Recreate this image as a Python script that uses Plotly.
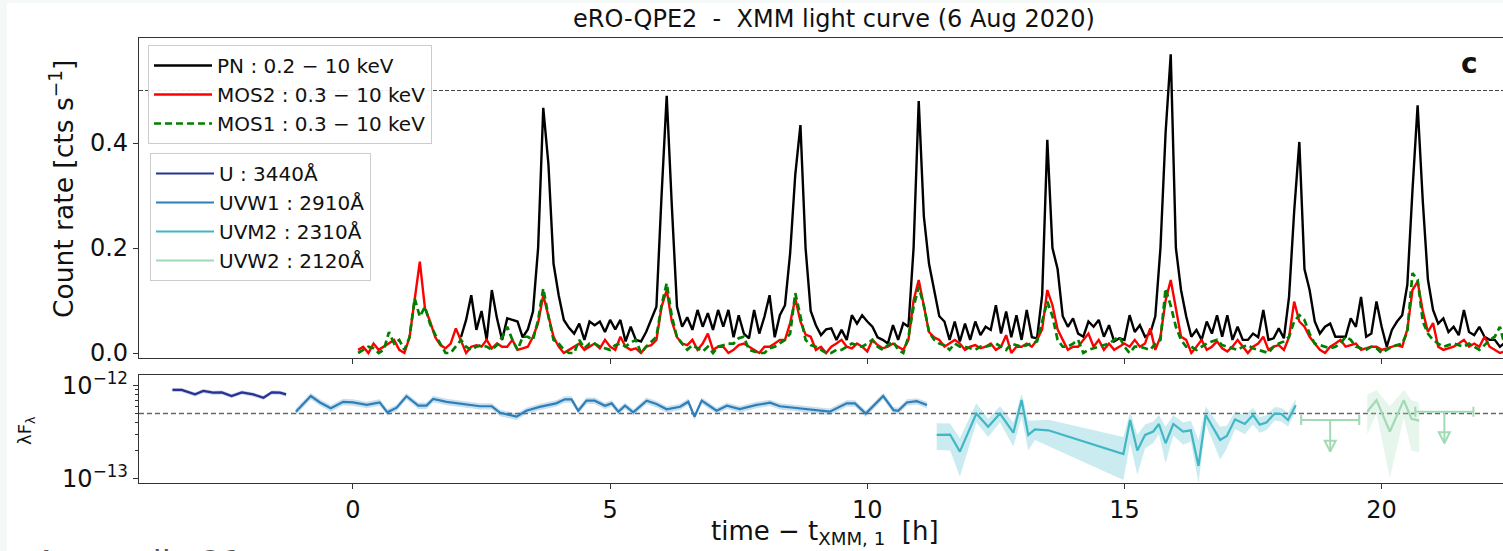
import numpy as np
import plotly.graph_objects as go

# ------------------------------------------------------------------ data
bin_h = 0.1                      # light-curve bin width [h]
pn_t0 = 2.1                      # first PN bin [h]
pn_rate = [
    0.030, 0.063, 0.110, 0.044, 0.080, 0.025, 0.120, 0.066, 0.025, 0.066,
    0.063, 0.060, 0.030, 0.045, 0.079, 0.200, 0.467, 0.360, 0.170, 0.110,
    0.063, 0.048, 0.037, 0.056, 0.025, 0.060, 0.053, 0.060, 0.040, 0.063,
    0.045, 0.063, 0.022, 0.050, 0.025, 0.022, 0.040, 0.063, 0.088, 0.300,
    0.490, 0.280, 0.088, 0.050, 0.068, 0.044, 0.082, 0.050, 0.076, 0.044,
    0.082, 0.050, 0.082, 0.030, 0.072, 0.037, 0.028, 0.082, 0.037, 0.069,
    0.110, 0.030, 0.072, 0.091, 0.190, 0.340, 0.434, 0.200, 0.080, 0.053,
    0.034, 0.045, 0.047, 0.025, 0.044, 0.025, 0.072, 0.056, 0.072, 0.060,
    0.050, 0.030, 0.025, 0.018, 0.053, 0.025, 0.057, 0.050, 0.200, 0.480,
    0.260, 0.170, 0.120, 0.070, 0.060, 0.025, 0.060, 0.022, 0.056, 0.025,
    0.060, 0.034, 0.050, 0.044, 0.091, 0.037, 0.079, 0.030, 0.072, 0.025,
    0.082, 0.030, 0.028, 0.110, 0.406, 0.200, 0.160, 0.070, 0.050, 0.066,
    0.037, 0.031, 0.060, 0.050, 0.063, 0.031, 0.053, 0.022, 0.028, 0.025,
    0.072, 0.040, 0.053, 0.031, 0.037, 0.070, 0.200, 0.420, 0.569, 0.200,
    0.120, 0.070, 0.031, 0.044, 0.025, 0.060, 0.037, 0.072, 0.031, 0.072,
    0.025, 0.050, 0.025, 0.025, 0.037, 0.030, 0.082, 0.025, 0.028, 0.047,
    0.028, 0.107, 0.270, 0.402, 0.160, 0.120, 0.060, 0.037, 0.050, 0.056,
    0.031, 0.031, 0.031, 0.066, 0.050, 0.107, 0.031, 0.037, 0.098, 0.050,
    0.012, 0.044, 0.060, 0.072, 0.130, 0.310, 0.472, 0.290, 0.140, 0.082,
    0.056, 0.066, 0.040, 0.050, 0.034, 0.082, 0.040, 0.034, 0.050, 0.031,
    0.025, 0.025, 0.012, 0.020,
]

mos_t0 = 0.1                     # first MOS bin [h]
mos2_rate = [
    0.006, 0.012, 0.000, 0.018, 0.006, 0.012, 0.018, 0.025, 0.006, 0.000,
    0.030, 0.100, 0.174, 0.085, 0.060, 0.030, 0.015, 0.009, 0.018, 0.047,
    0.025, 0.000, 0.012, 0.015, 0.012, 0.025, 0.009, 0.018, 0.012, 0.012,
    0.025, 0.006, 0.009, 0.012, 0.031, 0.057, 0.110, 0.070, 0.031, 0.012,
    0.000, 0.006, 0.012, 0.018, 0.006, 0.012, 0.018, 0.009, 0.025, 0.012,
    0.006, 0.031, 0.012, 0.006, 0.009, 0.000, 0.012, 0.015, 0.025, 0.088,
    0.120, 0.060, 0.030, 0.018, 0.015, 0.025, 0.006, 0.018, 0.037, 0.006,
    0.012, 0.012, 0.000, 0.006, 0.015, 0.018, 0.012, 0.006, 0.000, 0.012,
    0.012, 0.018, 0.025, 0.025, 0.057, 0.104, 0.060, 0.035, 0.031, 0.006,
    0.012, 0.000, 0.012, 0.018, 0.025, 0.012, 0.009, 0.018, 0.012, 0.003,
    0.025, 0.015, 0.009, 0.012, 0.018, 0.012, 0.006, 0.025, 0.100, 0.139,
    0.090, 0.040, 0.030, 0.025, 0.012, 0.018, 0.025, 0.018, 0.006, 0.012,
    0.015, 0.009, 0.012, 0.018, 0.006, 0.012, 0.034, 0.000, 0.012, 0.012,
    0.018, 0.012, 0.025, 0.045, 0.120, 0.091, 0.045, 0.025, 0.006, 0.012,
    0.012, 0.025, 0.037, 0.012, 0.025, 0.006, 0.018, 0.006, 0.012, 0.018,
    0.012, 0.025, 0.012, 0.018, 0.047, 0.006, 0.031, 0.100, 0.139, 0.085,
    0.031, 0.025, 0.000, 0.012, 0.025, 0.006, 0.012, 0.022, 0.009, 0.003,
    0.012, 0.025, 0.012, 0.000, 0.012, 0.018, 0.031, 0.006, 0.012, 0.015,
    0.006, 0.030, 0.098, 0.060, 0.050, 0.031, 0.018, 0.006, 0.000, 0.012,
    0.018, 0.025, 0.012, 0.015, 0.018, 0.006, 0.009, 0.012, 0.012, 0.006,
    0.009, 0.012, 0.015, 0.012, 0.045, 0.120, 0.136, 0.080, 0.040, 0.057,
    0.012, 0.006, 0.009, 0.012, 0.018, 0.025, 0.012, 0.018, 0.012, 0.031,
    0.012, 0.006, 0.000, 0.003,
]
mos1_rate = [
    0.000, 0.006, 0.012, 0.009, 0.000, 0.006, 0.040, 0.018, 0.025, 0.006,
    0.030, 0.104, 0.069, 0.088, 0.055, 0.035, 0.018, 0.000, 0.000, 0.012,
    0.025, 0.012, 0.006, 0.012, 0.015, 0.012, 0.006, 0.015, 0.030, 0.050,
    0.025, 0.006, 0.031, 0.031, 0.025, 0.063, 0.123, 0.070, 0.025, 0.018,
    0.006, 0.000, 0.000, 0.025, 0.009, 0.018, 0.018, 0.012, 0.009, 0.006,
    0.015, 0.018, 0.012, 0.020, 0.025, 0.000, 0.012, 0.022, 0.031, 0.091,
    0.133, 0.070, 0.030, 0.018, 0.006, 0.015, 0.009, 0.003, 0.012, 0.000,
    0.012, 0.015, 0.018, 0.018, 0.028, 0.031, 0.006, 0.003, 0.000, 0.000,
    0.009, 0.012, 0.018, 0.025, 0.037, 0.114, 0.070, 0.025, 0.015, 0.012,
    0.006, 0.000, 0.000, 0.006, 0.006, 0.012, 0.018, 0.015, 0.012, 0.018,
    0.025, 0.012, 0.006, 0.015, 0.022, 0.006, 0.000, 0.031, 0.088, 0.126,
    0.090, 0.040, 0.025, 0.018, 0.015, 0.006, 0.018, 0.012, 0.012, 0.009,
    0.006, 0.012, 0.012, 0.015, 0.018, 0.012, 0.006, 0.018, 0.015, 0.012,
    0.015, 0.018, 0.022, 0.060, 0.098, 0.070, 0.025, 0.012, 0.012, 0.018,
    0.025, 0.000, 0.006, 0.009, 0.012, 0.015, 0.018, 0.025, 0.031, 0.012,
    0.000, 0.012, 0.012, 0.009, 0.006, 0.018, 0.025, 0.123, 0.090, 0.050,
    0.025, 0.012, 0.012, 0.006, 0.012, 0.018, 0.022, 0.025, 0.015, 0.012,
    0.009, 0.006, 0.012, 0.015, 0.009, 0.006, 0.003, 0.000, 0.012, 0.018,
    0.022, 0.031, 0.060, 0.072, 0.063, 0.037, 0.018, 0.015, 0.012, 0.009,
    0.012, 0.018, 0.031, 0.025, 0.012, 0.009, 0.006, 0.012, 0.009, 0.000,
    0.006, 0.012, 0.015, 0.018, 0.040, 0.152, 0.140, 0.060, 0.037, 0.025,
    0.018, 0.012, 0.015, 0.018, 0.015, 0.012, 0.018, 0.012, 0.006, 0.015,
    0.025, 0.031, 0.050, 0.012,
]

# OM photometry (lambda F_lambda)
u_t = [-3.51, -3.33, -3.07, -2.91, -2.72, -2.55, -2.36, -2.16, -1.94, -1.74, -1.58, -1.42, -1.30]
u_flux = [9.0e-13, 9.0e-13, 8.07e-13, 8.77e-13, 8.41e-13, 8.48e-13, 7.74e-13, 8.48e-13,
          8.07e-13, 7.42e-13, 8.48e-13, 8.41e-13, 8.07e-13]
u_relerr = 0.05

uvw1_t = [-1.11, -0.82, -0.64, -0.43, -0.19, 0.00, 0.27, 0.52, 0.67, 0.85, 1.04, 1.27, 1.43,
          1.56, 1.82, 2.14, 2.47, 2.70, 2.86, 3.18, 3.37, 3.63, 3.95, 4.12, 4.25, 4.38, 4.54,
          4.70, 4.90, 5.03, 5.16, 5.29, 5.45, 5.71, 5.90, 6.10, 6.36, 6.52, 6.64, 6.78, 7.07,
          7.27, 7.52, 7.85, 8.11, 8.30, 9.27, 9.60, 9.76, 9.97, 10.31, 10.51, 10.60, 10.77,
          10.96, 11.16]
uvw1_flux = [5.24e-13, 7.74e-13, 6.6e-13, 5.7e-13, 6.7e-13, 6.6e-13, 6.2e-13, 6.6e-13, 5.16e-13,
             5.8e-13, 7.7e-13, 6.1e-13, 6.1e-13, 7.2e-13, 6.7e-13, 6.3e-13, 6.0e-13, 6.0e-13,
             5.1e-13, 4.63e-13, 5.37e-13, 5.9e-13, 6.45e-13, 7.13e-13, 7.13e-13, 5.37e-13,
             6.9e-13, 6.9e-13, 6.08e-13, 6.45e-13, 5.24e-13, 6.08e-13, 5.16e-13, 6.9e-13,
             6.34e-13, 5.56e-13, 5.93e-13, 6.72e-13, 4.63e-13, 6.9e-13, 5.37e-13, 6.08e-13,
             5.6e-13, 6.2e-13, 6.55e-13, 6.0e-13, 5.24e-13, 6.45e-13, 6.45e-13, 5.0e-13,
             7.74e-13, 5.45e-13, 5.37e-13, 6.6e-13, 6.8e-13, 6.2e-13]
uvw1_relerr = 0.08

uvm2_t = [11.35, 11.61, 11.80, 12.12, 12.35, 12.58, 12.84, 13.00, 13.13, 13.26, 13.52, 14.98,
          15.11, 15.25, 15.40, 15.56, 15.67, 15.80, 15.95, 16.14, 16.29, 16.44, 16.58, 16.86,
          16.99, 17.15, 17.34, 17.50, 17.63, 17.76, 17.92, 18.05, 18.18, 18.33]
uvm2_flux = [2.94e-13, 2.97e-13, 1.94e-13, 5.0e-13, 3.6e-13, 5.0e-13, 3.11e-13, 7.0e-13,
             2.94e-13, 3.38e-13, 3.3e-13, 1.83e-13, 4.26e-13, 1.99e-13, 2.94e-13, 3.2e-13,
             3.86e-13, 2.39e-13, 3.86e-13, 3.2e-13, 3.3e-13, 1.36e-13, 4.83e-13, 2.6e-13,
             2.86e-13, 4.33e-13, 3.86e-13, 4.83e-13, 3.8e-13, 4.0e-13, 5.0e-13, 4.95e-13,
             4.26e-13, 6.17e-13]
uvm2_lo = [2.02e-13, 2.0e-13, 1.04e-13, 4.0e-13, 2.8e-13, 4.0e-13, 2.2e-13, 4.6e-13, 2.0e-13,
           2.6e-13, 2.2e-13, 9.6e-14, 2.4e-13, 1.09e-13, 2.1e-13, 2.4e-13, 3.0e-13, 1.45e-13,
           2.9e-13, 2.3e-13, 2.5e-13, 8.9e-14, 3.8e-13, 1.6e-13, 2.1e-13, 3.4e-13, 3.0e-13,
           3.8e-13, 3.1e-13, 3.3e-13, 4.2e-13, 4.1e-13, 3.6e-13, 5.3e-13]
uvm2_hi = [3.93e-13, 3.9e-13, 2.7e-13, 6.45e-13, 4.4e-13, 6.0e-13, 4.0e-13, 8.3e-13, 4.2e-13,
           4.2e-13, 4.3e-13, 2.8e-13, 5.24e-13, 2.94e-13, 3.8e-13, 4.1e-13, 4.8e-13, 3.6e-13,
           4.8e-13, 4.0e-13, 4.2e-13, 2.6e-13, 6.0e-13, 3.6e-13, 3.7e-13, 5.3e-13, 4.8e-13,
           5.8e-13, 4.6e-13, 4.8e-13, 5.9e-13, 5.8e-13, 5.1e-13, 7.2e-13]

uvw2_t = [19.72, 19.90, 20.16, 20.43, 20.58, 20.73]
uvw2_flux = [5.24e-13, 7.0e-13, 3.2e-13, 7.0e-13, 4.4e-13, 4.2e-13]
uvw2_lo = [3.0e-13, 5.0e-13, 1.0e-13, 4.5e-13, 2.0e-13, 1.9e-13]
uvw2_hi = [8.0e-13, 9.0e-13, 6.0e-13, 9.0e-13, 7.0e-13, 6.5e-13]
uvw2_ul_t = [19.00, 21.22]
uvw2_ul_halfwidth = [0.565, 0.565]
uvw2_ul_flux = [4.26e-13, 5.24e-13]
uvw2_ul_arrow_to = [1.94e-13, 2.39e-13]

x_ticks = [0, 5, 10, 15, 20]
count_ticks = [0.0, 0.2, 0.4]
count_ref_level = 0.5
flux_ref_level = 5e-13
flux_major_ticks = [1e-13, 1e-12]
flux_major_text = ["10<sup>\u221213</sup>", "10<sup>\u221212</sup>"]
flux_minor_ticks = [2e-13, 3e-13, 4e-13, 5e-13, 6e-13, 7e-13, 8e-13, 9e-13]

x_range = [-4.16, 22.36]
count_range = [-0.0095, 0.6]
flux_log_range = [-13.051, -11.884]

# colours
C_U, C_W1, C_M2, C_W2 = "#253494", "#2c7fb8", "#41b6c4", "#a1dab4"
FONT = "DejaVu Sans"


def rgba(hex_c, a):
    h = hex_c.lstrip("#")
    return "rgba(%d,%d,%d,%.2f)" % (int(h[0:2], 16), int(h[2:4], 16), int(h[4:6], 16), a)


# ------------------------------------------------------------------ layout geometry
W, H = 1503, 551
M_L, M_R, M_T, M_B = 139, 0, 38, 68
PW, PH = W - M_L - M_R, H - M_T - M_B


def fx(px):
    return (px - M_L) / PW


def fy(py):
    return (H - M_B - py) / PH


pn_t = pn_t0 + bin_h * np.arange(len(pn_rate))
mos_t = mos_t0 + bin_h * np.arange(len(mos2_rate))

fig = go.Figure()

# ---------------- top panel
fig.add_trace(go.Scatter(x=x_range, y=[count_ref_level] * 2, mode="lines",
                         line=dict(color="#444", width=1, dash="4px,2px"),
                         showlegend=False, hoverinfo="skip", xaxis="x", yaxis="y"))
fig.add_trace(go.Scatter(x=pn_t, y=pn_rate, mode="lines", name="PN : 0.2 \u2212 10 keV",
                         line=dict(color="black", width=2.4), legend="legend",
                         xaxis="x", yaxis="y"))
fig.add_trace(go.Scatter(x=mos_t, y=mos2_rate, mode="lines", name="MOS2 : 0.3 \u2212 10 keV",
                         line=dict(color="#ff0000", width=2.4), legend="legend",
                         xaxis="x", yaxis="y"))
fig.add_trace(go.Scatter(x=mos_t, y=mos1_rate, mode="lines", name="MOS1 : 0.3 \u2212 10 keV",
                         line=dict(color="#008000", width=2.7, dash="7px,4px"), legend="legend",
                         xaxis="x", yaxis="y"))

# ---------------- bottom panel
fig.add_trace(go.Scatter(x=x_range, y=[flux_ref_level] * 2, mode="lines",
                         line=dict(color="#666", width=1.5, dash="5px,3px"),
                         showlegend=False, hoverinfo="skip", xaxis="x2", yaxis="y2"))


def band(t, lo, hi, color, alpha):
    t = list(t)
    fig.add_trace(go.Scatter(x=t + t[::-1], y=list(hi) + list(lo)[::-1], fill="toself",
                             mode="lines", line=dict(width=0), fillcolor=rgba(color, alpha),
                             showlegend=False, hoverinfo="skip", xaxis="x2", yaxis="y2"))


u_f = np.array(u_flux)
band(u_t, u_f * (1 - u_relerr), u_f * (1 + u_relerr), C_U, 0.25)
w1_f = np.array(uvw1_flux)
band(uvw1_t, w1_f * (1 - uvw1_relerr), w1_f * (1 + uvw1_relerr), C_W1, 0.25)
band(uvm2_t, uvm2_lo, uvm2_hi, C_M2, 0.28)
band(uvw2_t, uvw2_lo, uvw2_hi, C_W2, 0.25)

fig.add_trace(go.Scatter(x=u_t, y=u_flux, mode="lines", name="U : 3440\u00c5",
                         line=dict(color=C_U, width=2.2), legend="legend2", xaxis="x2", yaxis="y2"))
fig.add_trace(go.Scatter(x=uvw1_t, y=uvw1_flux, mode="lines", name="UVW1 : 2910\u00c5",
                         line=dict(color=C_W1, width=2.2), legend="legend2", xaxis="x2", yaxis="y2"))
fig.add_trace(go.Scatter(x=uvm2_t, y=uvm2_flux, mode="lines", name="UVM2 : 2310\u00c5",
                         line=dict(color=C_M2, width=2.2), legend="legend2", xaxis="x2", yaxis="y2"))
fig.add_trace(go.Scatter(x=uvw2_t, y=uvw2_flux, mode="lines", name="UVW2 : 2120\u00c5",
                         line=dict(color=C_W2, width=2.2), legend="legend2", xaxis="x2", yaxis="y2"))

# upper limits (horizontal bar with caps + downward arrow)
fig.add_trace(go.Scatter(x=uvw2_ul_t, y=uvw2_ul_flux, mode="markers",
                         marker=dict(size=1, color="rgba(0,0,0,0)"),
                         error_x=dict(type="data", array=uvw2_ul_halfwidth, color=C_W2,
                                      thickness=2, width=5),
                         showlegend=False, hoverinfo="skip", xaxis="x2", yaxis="y2"))
ul_x, ul_y = [], []
for t, f0, f1 in zip(uvw2_ul_t, uvw2_ul_flux, uvw2_ul_arrow_to):
    ul_x += [t, t, None]
    ul_y += [f0, f1, None]
fig.add_trace(go.Scatter(x=ul_x, y=ul_y, mode="lines", line=dict(color=C_W2, width=2),
                         showlegend=False, hoverinfo="skip", xaxis="x2", yaxis="y2"))
fig.add_trace(go.Scatter(x=uvw2_ul_t, y=uvw2_ul_arrow_to, mode="markers",
                         marker=dict(symbol="arrow-down-open", size=11, color=C_W2,
                                     line=dict(color=C_W2, width=2)),
                         showlegend=False, hoverinfo="skip", xaxis="x2", yaxis="y2"))

AX_COL = "#333"
tick_font = dict(family=FONT, size=24, color="#111")
common_x = dict(range=x_range, showline=True, linecolor=AX_COL, linewidth=1.3, mirror=True,
                ticks="outside", ticklen=5, tickwidth=1.2, tickcolor=AX_COL,
                tickvals=x_ticks, showgrid=False, zeroline=False, tickfont=tick_font)

legend_common = dict(xanchor="left", yanchor="top", bgcolor="rgba(255,255,255,0.9)",
                     bordercolor="#cccccc", borderwidth=1, itemwidth=58,
                     font=dict(family=FONT, size=20, color="#111"), tracegroupgap=0)

fig.update_layout(
    width=W, height=H,
    margin=dict(l=M_L, r=M_R, t=M_T, b=M_B, pad=0),
    paper_bgcolor="#f4f9f7", plot_bgcolor="white",
    font=dict(family=FONT, color="#111"),
    xaxis=dict(domain=[0, 1], anchor="y", showticklabels=False, **common_x),
    yaxis=dict(domain=[fy(358), 1], anchor="x", range=count_range, tickvals=count_ticks,
               tickformat=".1f", showline=True, linecolor=AX_COL, linewidth=1.3,
               ticks="outside", ticklen=5, tickwidth=1.2, tickcolor=AX_COL,
               showgrid=False, zeroline=False, tickfont=tick_font),
    xaxis2=dict(domain=[0, 1], anchor="y2", showticklabels=True, **common_x),
    yaxis2=dict(domain=[0, fy(375)], anchor="x2", type="log", range=flux_log_range,
                tickvals=flux_major_ticks, ticktext=flux_major_text,
                showline=True, linecolor=AX_COL, linewidth=1.3,
                ticks="outside", ticklen=5, tickwidth=1.2, tickcolor=AX_COL,
                minor=dict(tickvals=flux_minor_ticks, ticks="outside", ticklen=3,
                           tickwidth=1, tickcolor=AX_COL, showgrid=False),
                showgrid=False, zeroline=False, tickfont=tick_font),
    legend=dict(x=fx(148), y=fy(45), **legend_common),
    legend2=dict(x=fx(150), y=fy(153), **legend_common),
    shapes=[dict(type="rect", xref="paper", yref="paper", x0=fx(7), x1=fx(W + 20),
                 y0=fy(H + 20), y1=fy(3), fillcolor="white", line=dict(width=0), layer="below")],
    annotations=[
        dict(text="eRO-QPE2\u00a0\u00a0-\u00a0\u00a0XMM light curve (6 Aug 2020)",
             x=fx(834), y=fy(19), xref="paper", yref="paper", xanchor="center",
             yanchor="middle", showarrow=False, font=dict(family=FONT, size=24, color="#111")),
        dict(text="Count rate [cts s<sup>\u22121</sup>]", textangle=-90,
             x=fx(62), y=fy(189), xref="paper", yref="paper", xanchor="center",
             yanchor="middle", showarrow=False, font=dict(family=FONT, size=26.5, color="#111")),
        dict(text="\u03bbF<sub>\u03bb</sub>", textangle=-90,
             x=fx(26), y=fy(431), xref="paper", yref="paper", xanchor="center",
             yanchor="middle", showarrow=False, font=dict(family=FONT, size=18, color="#111")),
        dict(text="time \u2212 t<sub>XMM, 1</sub>\u00a0\u00a0[h]",
             x=fx(825), y=fy(532), xref="paper", yref="paper", xanchor="center",
             yanchor="middle", showarrow=False, font=dict(family=FONT, size=26, color="#111")),
        dict(text="<b>c</b>", x=fx(1469), y=fy(63), xref="paper", yref="paper",
             xanchor="center", yanchor="middle", showarrow=False,
             font=dict(family=FONT, size=28, color="#111")),
        dict(text="Appendix 21", x=fx(33), y=fy(542), xref="paper", yref="paper",
             xanchor="left", yanchor="top", showarrow=False,
             font=dict(family=FONT, size=33, color="#555")),
    ],
)

fig.write_html("out.html")
